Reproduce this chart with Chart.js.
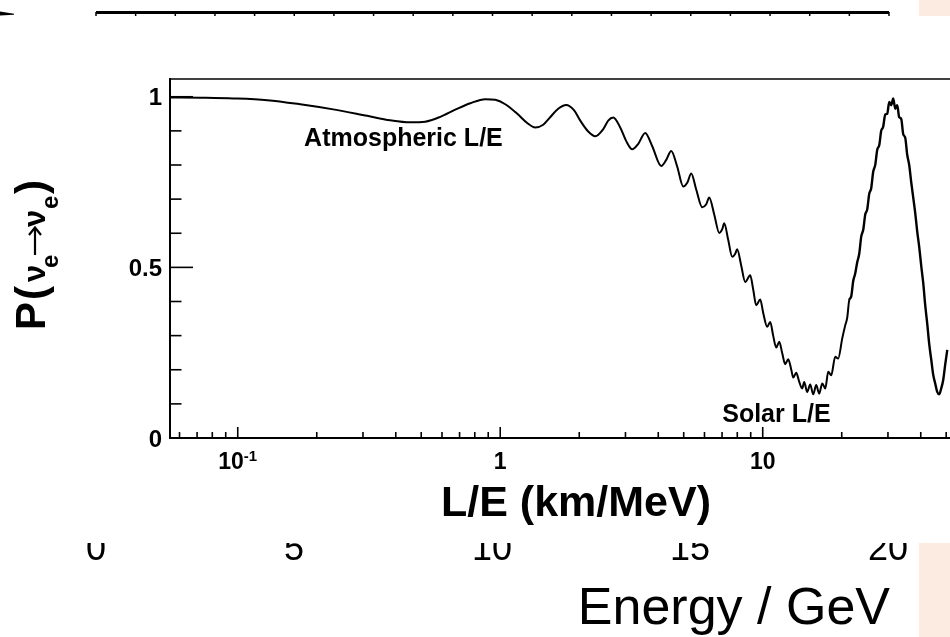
<!DOCTYPE html>
<html lang="en">
<head>
<meta charset="UTF-8">
<title>Electron neutrino survival probability</title>
<script src="https://cdn.jsdelivr.net/npm/chart.js"></script>
<style>
  html, body { margin: 0; padding: 0; background: #fff; overflow: hidden; }
  canvas { display: block; }
</style>
</head>
<body>
<canvas id="probChart" width="950" height="637"></canvas>
<script>
// L/E (km/MeV) and survival probability P(nu_e -> nu_e)
const leValues = [
  0.0552, 0.072, 0.0961, 0.1295, 0.173, 0.2311, 0.3113, 0.381, 0.454, 0.518,
  0.591, 0.674, 0.769, 0.877, 0.957, 1.045, 1.161, 1.267, 1.359, 1.458,
  1.55, 1.663, 1.783, 1.913, 2.018, 2.164, 2.301, 2.469, 2.579, 2.695,
  2.865, 3.02, 3.184, 3.356, 3.567, 3.794, 4.105, 4.29, 4.481, 4.724,
  4.98, 5.158, 5.342, 5.58, 5.883, 6.093, 6.254, 6.535, 6.829, 7.011,
  7.134, 7.391, 7.65, 7.857, 7.993, 8.283, 8.577, 8.962, 9.2, 9.445,
  9.783, 10.04, 10.4, 10.68, 10.96, 11.26, 11.56, 11.87, 12.18, 12.51,
  12.84, 13.07, 13.42, 13.77, 14.14, 14.39, 14.77, 15.17, 15.57, 15.99,
  16.41, 16.86, 17.31, 17.77, 18.24, 18.89, 19.39, 20.09, 20.62, 20.98,
  21.36, 21.74, 22.12, 22.51, 22.91, 23.32, 23.73, 24.15, 24.58, 25.01,
  25.45, 25.9, 26.36, 26.83, 27.31, 27.79, 28.28, 28.77, 29.29, 29.81,
  30.34, 30.87, 31.42, 31.98, 32.54, 33.11, 33.71, 34.3, 34.91, 35.52,
  36.15, 36.79, 37.44, 38.1, 38.78, 39.46, 40.16, 40.87, 41.59, 42.34,
  43.09, 43.85, 44.63, 45.41, 46.22, 47.04, 47.86, 48.71, 49.57, 50.47
];
const survivalProb = [
  0.998, 0.997, 0.995, 0.990, 0.978, 0.963, 0.944, 0.931, 0.925, 0.927,
  0.941, 0.962, 0.981, 0.993, 0.991, 0.978, 0.950, 0.923, 0.910, 0.918,
  0.940, 0.965, 0.976, 0.960, 0.930, 0.898, 0.884, 0.905, 0.930, 0.939,
  0.910, 0.870, 0.846, 0.862, 0.894, 0.855, 0.797, 0.815, 0.841, 0.795,
  0.737, 0.748, 0.775, 0.728, 0.676, 0.685, 0.705, 0.655, 0.601, 0.612,
  0.629, 0.580, 0.531, 0.540, 0.553, 0.505, 0.457, 0.477, 0.435, 0.389,
  0.406, 0.367, 0.326, 0.340, 0.300, 0.265, 0.282, 0.248, 0.216, 0.231,
  0.201, 0.177, 0.191, 0.165, 0.145, 0.164, 0.135, 0.157, 0.128, 0.155,
  0.130, 0.160, 0.145, 0.194, 0.184, 0.238, 0.233, 0.292, 0.330, 0.352,
  0.404, 0.415, 0.460, 0.482, 0.515, 0.540, 0.590, 0.610, 0.655, 0.670,
  0.715, 0.732, 0.780, 0.800, 0.845, 0.858, 0.900, 0.912, 0.948, 0.950,
  0.985, 0.975, 0.995, 0.965, 0.975, 0.940, 0.935, 0.890, 0.880, 0.830,
  0.800, 0.750, 0.705, 0.660, 0.605, 0.560, 0.505, 0.455, 0.390, 0.335,
  0.275, 0.230, 0.185, 0.160, 0.135, 0.128, 0.145, 0.170, 0.215, 0.258
];

// axis ticks
const xMajorTicks = [0.1, 1, 10];
const xMajorLabels = [['10', '-1'], ['1', ''], ['10', '']];
const xMinorTicks = [0.06, 0.07, 0.08, 0.09, 0.2, 0.3, 0.4, 0.5, 0.6, 0.7, 0.8, 0.9,
  2, 3, 4, 5, 6, 7, 8, 9, 20, 30, 40, 50];
const yMajorTicks = [0, 0.5, 1];
const yMajorLabels = ['0', '0.5', '1'];
const yMinorTicks = [0.1, 0.2, 0.3, 0.4, 0.6, 0.7, 0.8, 0.9];

// energy axis of the figure lying underneath
const energyLabels = ['0', '5', '10', '15', '20'];

const SANS = '"Liberation Sans", Arial, Helvetica, sans-serif';

function seg(c, x1, y1, x2, y2) {
  c.beginPath();
  c.moveTo(x1, y1);
  c.lineTo(x2, y2);
  c.stroke();
}

const rootFrame = {
  id: 'rootFrame',
  beforeDraw(chart) {
    const c = chart.ctx;
    c.save();
    c.fillStyle = '#fff';
    c.fillRect(0, 0, chart.width, chart.height);

    // bits of the underlying figure
    c.fillStyle = '#fbebe1';
    c.fillRect(919, 0, 31, 16);
    c.fillRect(919, 543, 31, 94);

    c.fillStyle = '#000';
    c.font = `36px ${SANS}`;
    c.textAlign = 'center';
    c.textBaseline = 'alphabetic';
    energyLabels.forEach((t, i) => c.fillText(t, 96 + i * 198, 560));
    c.font = `52px ${SANS}`;
    c.textAlign = 'right';
    c.fillText('Energy / GeV', 890, 624);

    // white pad on top of it
    c.fillStyle = '#fff';
    c.fillRect(0, 16, chart.width, 527);

    c.strokeStyle = '#000';
    c.lineWidth = 3;
    seg(c, 96, 12.5, 889, 12.5);
    c.lineWidth = 1.5;
    for (let i = 0; i <= 20; i++) {
      const x = 96 + i * 39.65;
      seg(c, x, 12, x, 16);
    }
    // tail of a stroke cut off at the left edge
    c.fillStyle = '#000';
    c.beginPath();
    c.moveTo(0, 11.5);
    c.lineTo(14, 13.8);
    c.lineTo(14, 14.8);
    c.lineTo(0, 15.5);
    c.closePath();
    c.fill();
    c.restore();
  },
  afterDatasetsDraw(chart) {
    const c = chart.ctx;
    const a = chart.chartArea;
    const xs = chart.scales.x;
    const ys = chart.scales.y;
    c.save();
    c.strokeStyle = '#000';
    c.fillStyle = '#000';

    // frame
    c.lineWidth = 1.3;
    seg(c, a.left, a.top, a.right, a.top);
    c.lineWidth = 2;
    seg(c, a.left, a.top - 1, a.left, a.bottom + 1);
    seg(c, a.left - 1, a.bottom, a.right, a.bottom);

    // inward ticks
    c.lineWidth = 1.6;
    yMajorTicks.forEach(v => { const y = ys.getPixelForValue(v); seg(c, a.left, y, a.left + 23, y); });
    yMinorTicks.forEach(v => { const y = ys.getPixelForValue(v); seg(c, a.left, y, a.left + 11.5, y); });
    xMajorTicks.forEach(v => { const x = xs.getPixelForValue(v); seg(c, x, a.bottom, x, a.bottom - 11); });
    xMinorTicks.forEach(v => { const x = xs.getPixelForValue(v); seg(c, x, a.bottom, x, a.bottom - 6); });

    // y tick labels
    c.font = `bold 24px ${SANS}`;
    c.textAlign = 'right';
    c.textBaseline = 'middle';
    yMajorTicks.forEach((v, i) => c.fillText(yMajorLabels[i], 162, ys.getPixelForValue(v) + 2));

    // x tick labels with optional exponent
    c.textAlign = 'left';
    c.textBaseline = 'alphabetic';
    xMajorTicks.forEach((v, i) => {
      const [base, exp] = xMajorLabels[i];
      c.font = `bold 23px ${SANS}`;
      const wb = c.measureText(base).width;
      c.font = `bold 15px ${SANS}`;
      const we = exp ? c.measureText(exp).width : 0;
      const x0 = xs.getPixelForValue(v) - (wb + we) / 2;
      c.font = `bold 23px ${SANS}`;
      c.fillText(base, x0, 469);
      if (exp) {
        c.font = `bold 15px ${SANS}`;
        c.fillText(exp, x0 + wb, 461);
      }
    });

    // curve annotations
    c.font = `bold 25px ${SANS}`;
    c.fillText('Atmospheric L/E', xs.getPixelForValue(0.179), ys.getPixelForValue(0.855));
    c.fillText('Solar L/E', xs.getPixelForValue(7.01), ys.getPixelForValue(0.047));

    // x title
    c.font = `bold 43px ${SANS}`;
    c.textAlign = 'center';
    c.fillText('L/E (km/MeV)', 576, 516);

    // y title, rotated, built piece by piece for the subscripts
    c.translate(45, 330);
    c.rotate(-Math.PI / 2);
    c.textAlign = 'left';
    const put = (txt, u, size, dy) => {
      c.font = `bold ${size}px ${SANS}`;
      c.fillText(txt, u, dy);
    };
    put('P', 0, 42, 0);
    put('(', 30, 42, 0);
    put('\u03bd', 48, 31, 0);
    put('e', 62, 24, 13);
    put('\u03bd', 103, 31, 0);
    put('e', 121, 24, 13);
    put(')', 136, 42, 0);
    // the arrow between the two neutrinos
    c.lineWidth = 2.2;
    seg(c, 75, -10, 102, -10);
    c.beginPath();
    c.moveTo(95, -16);
    c.lineTo(102.5, -10);
    c.lineTo(95, -4);
    c.stroke();
    c.restore();
  }
};

const points = leValues.map((x, i) => ({ x: x, y: survivalProb[i] }));

new Chart(document.getElementById('probChart').getContext('2d'), {
  type: 'line',
  data: {
    datasets: [{
      data: points,
      borderColor: '#000',
      borderWidth: 2,
      pointRadius: 0,
      fill: false,
      cubicInterpolationMode: 'monotone',
      segment: {
        borderWidth: ctx => ctx.p0.parsed.x > 21 ? 2.4 : 2
      }
    }]
  },
  options: {
    responsive: false,
    animation: false,
    events: [],
    layout: { padding: { left: 170, top: 79, right: 0, bottom: 199 } },
    plugins: {
      legend: { display: false },
      tooltip: { enabled: false }
    },
    scales: {
      x: { type: 'logarithmic', min: 0.0552, max: 51.7, display: false },
      y: { type: 'linear', min: 0, max: 1.052, display: false }
    }
  },
  plugins: [rootFrame]
});
</script>
</body>
</html>
